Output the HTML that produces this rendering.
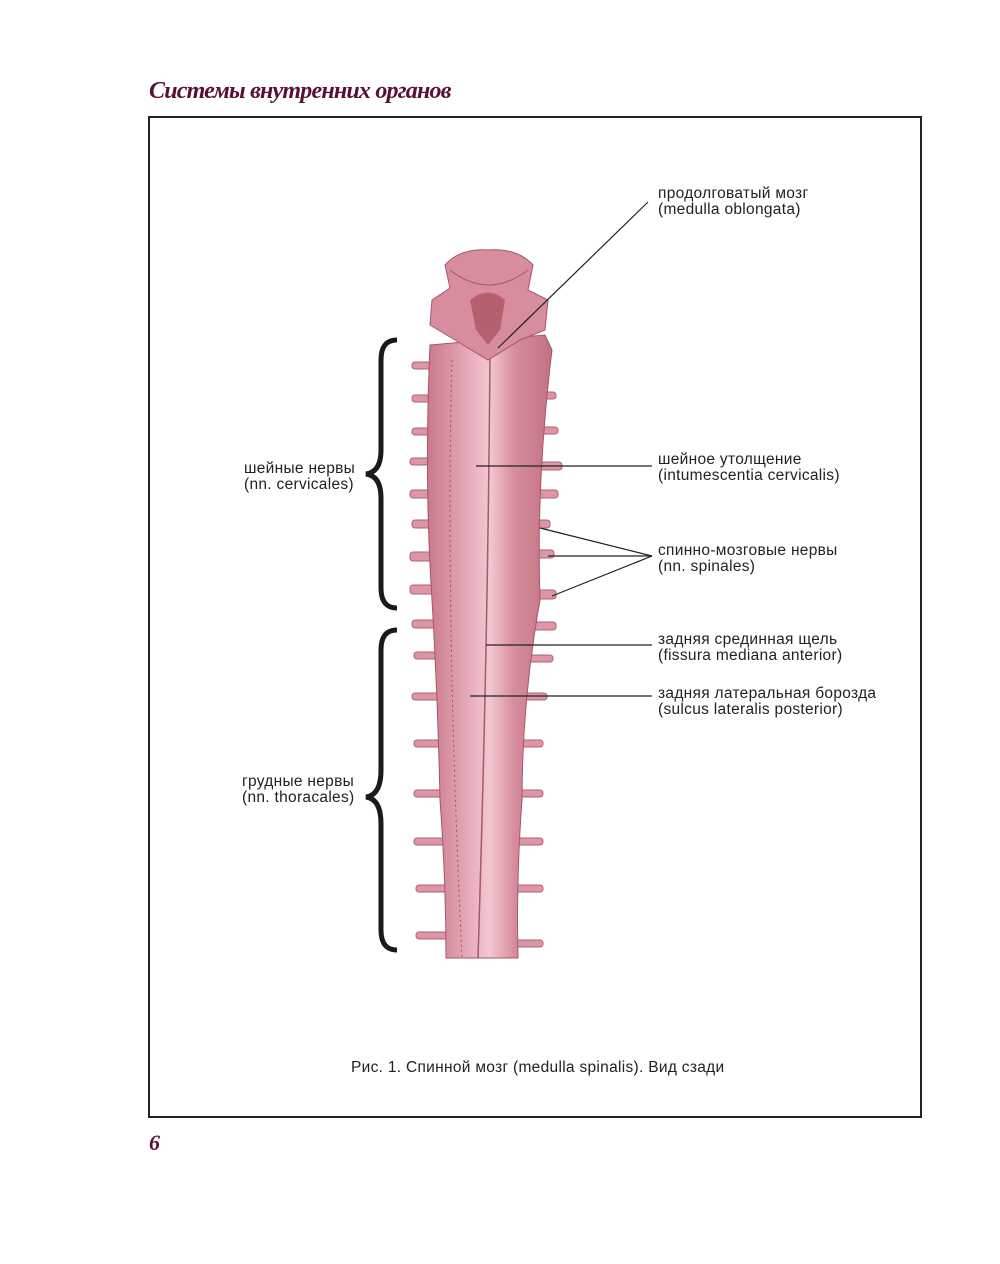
<!DOCTYPE html>
<html><head><meta charset="utf-8"><style>
body{margin:0;background:#fff;width:1000px;height:1264px;position:relative;overflow:hidden;font-family:"Liberation Sans",sans-serif}
.h{position:absolute;left:149px;top:78px;font-family:"Liberation Serif",serif;font-style:italic;font-weight:bold;font-size:24px;color:#5a0f35;letter-spacing:-0.8px}
.pn{position:absolute;left:149px;top:1130px;font-family:"Liberation Serif",serif;font-style:italic;font-weight:bold;font-size:22px;color:#5a0f35}
.frame{position:absolute;left:148px;top:116px;width:770px;height:998px;border:2px solid #222}
.t{position:absolute;font-size:15.5px;line-height:16px;color:#222;letter-spacing:0.3px}
</style></head><body>
<div class="h">Системы внутренних органов</div>
<div class="frame"></div>
<div class="pn">6</div>
<svg width="1000" height="1264" style="position:absolute;left:0;top:0">
<defs><linearGradient id="g" x1="0" x2="1"><stop offset="0" stop-color="#c9788a"/><stop offset=".35" stop-color="#e7aebb"/><stop offset=".5" stop-color="#f3c8d0"/><stop offset=".7" stop-color="#d58c9c"/><stop offset="1" stop-color="#c27284"/></linearGradient></defs>
<g stroke="#b0606f" stroke-width="1" fill="#dc97a6">
<rect x="412" y="362" width="40" height="7" rx="3"/><rect x="412" y="395" width="40" height="7" rx="3"/><rect x="412" y="428" width="40" height="7" rx="3"/><rect x="410" y="458" width="40" height="7" rx="3"/><rect x="410" y="490" width="40" height="8" rx="3"/><rect x="412" y="520" width="40" height="8" rx="3"/><rect x="410" y="552" width="40" height="9" rx="3"/><rect x="410" y="585" width="40" height="9" rx="3"/><rect x="412" y="620" width="40" height="8" rx="3"/><rect x="414" y="652" width="40" height="7" rx="3"/><rect x="412" y="693" width="40" height="7" rx="3"/><rect x="414" y="740" width="40" height="7" rx="3"/><rect x="414" y="790" width="40" height="7" rx="3"/><rect x="414" y="838" width="40" height="7" rx="3"/><rect x="416" y="885" width="40" height="7" rx="3"/><rect x="416" y="932" width="40" height="7" rx="3"/>
<rect x="520" y="392" width="36" height="7" rx="3"/><rect x="520" y="427" width="38" height="7" rx="3"/><rect x="520" y="462" width="42" height="8" rx="3"/><rect x="520" y="490" width="38" height="8" rx="3"/><rect x="520" y="520" width="30" height="8" rx="3"/><rect x="520" y="550" width="34" height="8" rx="3"/><rect x="520" y="590" width="36" height="9" rx="3"/><rect x="510" y="622" width="46" height="8" rx="3"/><rect x="505" y="655" width="48" height="7" rx="3"/><rect x="505" y="693" width="42" height="7" rx="3"/><rect x="505" y="740" width="38" height="7" rx="3"/><rect x="505" y="790" width="38" height="7" rx="3"/><rect x="505" y="838" width="38" height="7" rx="3"/><rect x="505" y="885" width="38" height="7" rx="3"/><rect x="505" y="940" width="38" height="7" rx="3"/>
</g>
<path d="M430 345 L545 335 L552 350 Q536 480 540 600 Q522 700 522 800 Q516 880 518 958 L446 958 Q446 880 440 800 Q438 700 432 600 Q424 480 430 345Z" fill="url(#g)" stroke="#a85566"/>
<path d="M452 360 Q445 600 462 958" stroke="#a05060" fill="none" stroke-dasharray="2 3"/>
<path d="M490 350 Q488 640 478 958" stroke="#a8586a" fill="none" stroke-width="1.5"/>
<path d="M445 265 Q460 248 488 250 Q518 248 533 265 L528 290 L548 300 L545 330 L520 340 L488 360 L455 340 L430 325 L432 300 L450 288Z" fill="#d88d9e" stroke="#a85566"/>
<path d="M470 300 Q488 285 505 300 L500 330 L488 345 L476 330Z" fill="#b4606f"/>
<path d="M450 270 Q488 300 528 270" stroke="#a85566" fill="none"/>
<g fill="none" stroke="#1a1a1a" stroke-width="5">
<path d="M397 340 Q381 340 381 360 L381 450 Q381 472 366 474 Q381 476 381 498 L381 588 Q381 608 397 608"/>
<path d="M397 630 Q381 630 381 650 L381 770 Q381 795 366 797 Q381 799 381 824 L381 930 Q381 950 397 950"/>
</g>
<g stroke="#222" stroke-width="1.2">
<line x1="648" y1="202" x2="498" y2="348"/>
<line x1="476" y1="466" x2="652" y2="466"/>
<line x1="540" y1="528" x2="652" y2="556"/><line x1="548" y1="556" x2="652" y2="556"/><line x1="552" y1="596" x2="652" y2="556"/>
<line x1="486" y1="645" x2="652" y2="645"/>
<line x1="470" y1="696" x2="652" y2="696"/>
</g>
</svg>
<div class="t" style="left:658px;top:186px">продолговатый мозг<br>(medulla oblongata)</div>
<div class="t" style="left:658px;top:452px">шейное утолщение<br>(intumescentia cervicalis)</div>
<div class="t" style="left:658px;top:543px">спинно-мозговые нервы<br>(nn. spinales)</div>
<div class="t" style="left:658px;top:632px">задняя срединная щель<br>(fissura mediana anterior)</div>
<div class="t" style="left:658px;top:686px">задняя латеральная борозда<br>(sulcus lateralis posterior)</div>
<div class="t" style="left:244px;top:461px">шейные нервы<br>(nn. cervicales)</div>
<div class="t" style="left:242px;top:774px">грудные нервы<br>(nn. thoracales)</div>
<div class="t" style="left:351px;top:1060px">Рис. 1. Спинной мозг (medulla spinalis). Вид сзади</div>
</body></html>
